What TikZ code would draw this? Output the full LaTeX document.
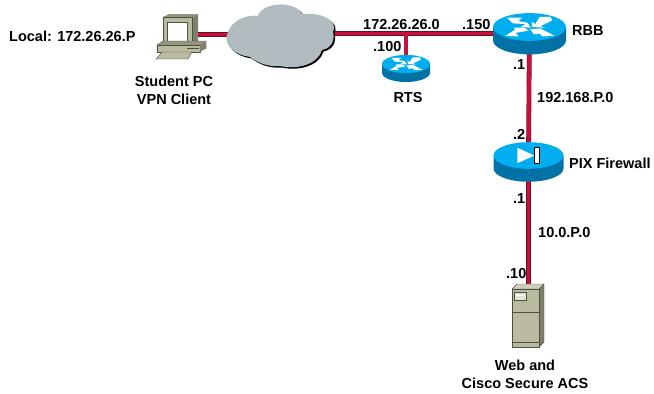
\documentclass[tikz,border=0pt]{standalone}
\usepackage{fontspec}
\setmainfont{Liberation Sans}
\definecolor{linkred}{HTML}{C8103C}
\definecolor{linkdark}{HTML}{6A1024}
\definecolor{topblue}{HTML}{00AEEF}
\definecolor{sideblue}{HTML}{0072A6}
\definecolor{cloudgrey}{HTML}{B2BCC0}
\definecolor{caseface}{HTML}{B9BA9E}
\definecolor{caseside}{HTML}{7F8068}
\definecolor{casedark}{HTML}{4E4F40}
\tikzset{
    lbl/.style={font=\bfseries\fontsize{14.5}{16}\selectfont, inner sep=0pt},
    linkback/.style={draw=linkdark, line width=4.8pt},
    linkfront/.style={draw=linkred, line width=3.6pt},
    puck/.pic={
        \fill[sideblue] (-1,0) -- (-1,-0.37) arc[start angle=180, end angle=360, x radius=1, y radius=0.38] -- (1,0) -- cycle;
        \fill[topblue] (0,0) ellipse[x radius=1, y radius=0.38];
    },
    arrowbar/.style={fill=white, draw=none},
}
\newcommand{\routerarrows}{
    \fill[arrowbar] (-0.62,0.26) -- (-0.46,0.10) -- (-0.10,0.08) -- (-0.24,0.00) -- (0.04,-0.02) -- (-0.06,0.12) -- (-0.30,0.16) -- (-0.20,0.26) -- cycle;
    \fill[arrowbar] (0.58,0.28) -- (0.62,0.18) -- (0.30,0.02) -- (0.42,-0.02) -- (0.08,0.00) -- (0.06,0.14) -- (0.16,0.08) -- (0.28,0.28) -- cycle;
    \fill[arrowbar] (-0.66,-0.24) -- (-0.30,-0.26) -- (-0.38,-0.16) -- (-0.02,-0.10) -- (-0.14,-0.02) -- (-0.42,-0.02) -- (-0.40,-0.08) -- cycle;
    \fill[arrowbar] (0.02,-0.06) -- (0.30,-0.04) -- (0.68,-0.24) -- (0.36,-0.26) -- (0.28,-0.18) -- (0.12,-0.20) -- cycle;
}
\newcommand{\cloudpath}{
    (228,32) .. controls (232,20) and (248,14) .. (258,16)
    .. controls (262,2) and (295,0) .. (302,14)
    .. controls (325,12) and (338,22) .. (333,32)
    .. controls (335,40) and (332,48) .. (322,50)
    .. controls (318,64) and (298,70) .. (280,66)
    .. controls (268,67) and (258,63) .. (250,57)
    .. controls (235,55) and (222,45) .. (228,32) -- cycle
}
\begin{document}
\begin{tikzpicture}[x=1pt, y=-1pt]
    \useasboundingbox (0,0) rectangle (654,394);

    % Define points
    \coordinate (PC) at (190,34.5);
    \coordinate (Net) at (280,34);
    \coordinate (RTS) at (406,64);
    \coordinate (RBB) at (529.5,27);
    \coordinate (PIX) at (528.5,155.5);
    \coordinate (ACS) at (528.5,300);
    \coordinate (Tee) at (406,33.5);

    % Draw Links
    \foreach \ws in {linkback, linkfront} {
        \draw[\ws] (PC) -- (PC -| Net);
        \draw[\ws] (Net |- Tee) -- (Tee -| RBB);
        \draw[\ws] (Tee) -- (RTS);
        \draw[\ws] (RBB) -- (PIX);
        \draw[\ws] (PIX) -- (ACS);
    }

    % Cloud with its shadow
    \fill[black, shift={(1.5,1.5)}] \cloudpath;
    \fill[cloudgrey] \cloudpath;

    % Routers
    \begin{scope}[shift={(RBB)}, x=36.5pt, y=36.5pt]
        \pic {puck};
        \routerarrows
    \end{scope}
    \begin{scope}[shift={(RTS)}, x=24pt, y=24pt]
        \pic {puck};
        \routerarrows
    \end{scope}

    % Firewall
    \begin{scope}[shift={(PIX)}, x=35pt, y=35pt]
        \pic {puck};
        \fill[white] (-0.32,0.22) -- (0.17,0.0) -- (-0.32,-0.22) -- cycle;
        \fill[white, draw=black, line width=0.5pt] (0.17,0.24) rectangle (0.30,-0.22);
    \end{scope}

    % PC
    \fill[caseside] (192,17) -- (198,14) -- (198,45) -- (192,49) -- cycle;
    \fill[caseface!80!black] (163,17) -- (169,14) -- (198,14) -- (192,17) -- cycle;
    \fill[caseface, draw=casedark, line width=0.4pt] (163,17) rectangle (192,49);
    \fill[white, draw=casedark, line width=0.5pt] (167,22) rectangle (187,43);
    \fill[caseface!80!black, draw=casedark, line width=0.4pt] (157,45) -- (163,41) -- (206,41) -- (206,49) -- (157,49) -- cycle;
    \fill[caseface, draw=casedark, line width=0.4pt] (157,45) rectangle (200,52);
    \fill[caseside] (200,45) -- (206,41) -- (206,48) -- (200,52) -- cycle;
    \draw[casedark, line width=0.8pt] (187,48) -- (199,48);
    \fill[caseface, draw=casedark, line width=0.4pt] (162,52) -- (192,52) -- (188,59) -- (156,59) -- cycle;

    % Server
    \fill[caseside, draw=casedark, line width=0.4pt] (539,289) -- (544,284) -- (544,342) -- (539,347) -- cycle;
    \fill[caseface!70!white, draw=casedark, line width=0.4pt] (512,289) -- (517,284) -- (544,284) -- (539,289) -- cycle;
    \fill[caseface, draw=casedark, line width=0.6pt] (512,289) rectangle (539,347);
    \draw[casedark, line width=0.7pt] (512,312) -- (539,312);
    \draw[casedark, line width=0.7pt] (512,342.5) -- (539,342.5);
    \fill[caseface!40!white, draw=casedark, line width=0.5pt] (514,292) rectangle (526,300);
    \draw[white, line width=0.9pt] (515.5,295) -- (524.5,295);

    % Labels
    \node[lbl, anchor=west] (lblLocal) at (9,36) {Local: 172.26.26.P};
    \node[lbl, align=center] (lblPC) at (174,90) {Student PC\\[2pt]VPN Client};
    \node[lbl, anchor=west] (lblNet) at (363,25) {172.26.26.0};
    \node[lbl, anchor=west] (lbl150) at (462,25) {.150};
    \node[lbl, anchor=west] (lbl100) at (373,47) {.100};
    \node[lbl] (lblRTS) at (408,97.5) {RTS};
    \node[lbl, anchor=west] (lblRBB) at (572,31) {RBB};
    \node[lbl, anchor=west] (lblA) at (513,65) {.1};
    \node[lbl, anchor=west] (lblLan) at (537,98) {192.168.P.0};
    \node[lbl, anchor=west] (lblB) at (513,134) {.2};
    \node[lbl, anchor=west] (lblPIX) at (569,163) {PIX Firewall};
    \node[lbl, anchor=west] (lblC) at (513,199) {.1};
    \node[lbl, anchor=west] (lblDmz) at (538,233) {10.0.P.0};
    \node[lbl, anchor=west] (lblD) at (506,274) {.10};
    \node[lbl, align=center] (lblACS) at (525,374.5) {Web and\\[2pt]Cisco Secure ACS};
\end{tikzpicture}
\end{document}
